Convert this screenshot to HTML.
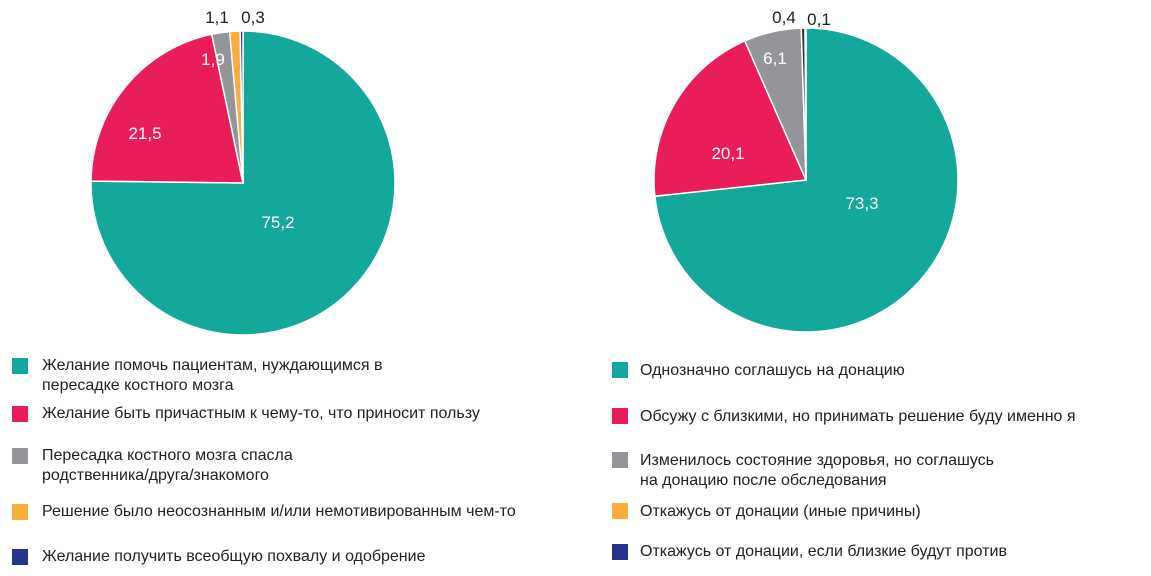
<!DOCTYPE html>
<html><head><meta charset="utf-8"><style>
body{margin:0;width:1151px;height:576px;background:#fff;font-family:"Liberation Sans",sans-serif;overflow:hidden;position:relative}
.lg{position:absolute;font-size:16px;line-height:20px;color:#222}
.sw{position:absolute;width:16px;height:16px}
</style></head><body>
<svg id="chart" width="1151" height="345" style="position:absolute;left:0;top:0"></svg>
<div id="legends"></div>
<script>
const leftLabels=["75,2","21,5","1,9","1,1","0,3"];
const leftValues=[75.2,21.5,1.9,1.1,0.3];
const rightLabels=["73,3","20,1","6,1","0,4","0,1"];
const rightValues=[73.3,20.1,6.1,0.4,0.1];
const leftColors=["#13a89a","#ea1d5b","#949599","#fbad3c","#26348b"];
const rightColors=["#13a89a","#ea1d5b","#949599","#333333","#26348b"];
const leftLegend=["Желание помочь пациентам, нуждающимся в<br>пересадке костного мозга","Желание быть причастным к чему-то, что приносит пользу","Пересадка костного мозга спасла<br>родственника/друга/знакомого","Решение было неосознанным и/или немотивированным чем-то","Желание получить всеобщую похвалу и одобрение"];
const rightLegend=["Однозначно соглашусь на донацию","Обсужу с близкими, но принимать решение буду именно я","Изменилось состояние здоровья, но соглашусь<br>на донацию после обследования","Откажусь от донации (иные причины)","Откажусь от донации, если близкие будут против"];
const NS="http://www.w3.org/2000/svg";
const svg=document.getElementById('chart');
function pie(cx,cy,r,vals,labels,colors,labelPos,prefix){
  const tot=vals.reduce((a,b)=>a+b,0);let a0=0;
  vals.forEach((v,i)=>{
    const a1=a0+v/tot*2*Math.PI;
    const p=(a)=>[cx+r*Math.sin(a),cy-r*Math.cos(a)];
    const [x0,y0]=p(a0),[x1,y1]=p(a1);
    const path=document.createElementNS(NS,'path');
    path.setAttribute('d',`M${cx},${cy}L${x0},${y0}A${r},${r} 0 ${a1-a0>Math.PI?1:0} 1 ${x1},${y1}Z`);
    path.setAttribute('fill',colors[i]);path.setAttribute('stroke','#fff');path.setAttribute('stroke-width','1.5');
    
    
    svg.appendChild(path);
    const am=(a0+a1)/2;const lp=labelPos[i];
    let lx,ly,fill;
    if(lp==null){lx=cx+r*0.62*Math.sin(am);ly=cy-r*0.62*Math.cos(am);fill='#fff';}
    else{lx=lp[0];ly=lp[1];fill=lp[2];}
    const t=document.createElementNS(NS,'text');
    t.setAttribute('x',lx);t.setAttribute('y',ly+6);t.setAttribute('text-anchor','middle');
    t.setAttribute('font-size','17');t.setAttribute('fill',fill);t.textContent=labels[i];
    
    
    svg.appendChild(t);
    a0=a1;
  });
}
pie(243,183,152,leftValues,leftLabels,leftColors,[[278,222,'#fff'],[145,133,'#fff'],[213,59,'#fff'],[217,17,'#222'],[253,17,'#222']],'left-pie');
pie(806,180,152,rightValues,rightLabels,rightColors,[[862,203,'#fff'],[728,153,'#fff'],[775,58,'#fff'],[784,17,'#222'],[819,19,'#222']],'right-pie');
const lg=document.getElementById('legends');
function legend(items,colors,sx,tx,ys,prefix){
  items.forEach((s,i)=>{
    const sw=document.createElement('div');sw.className='sw';
    sw.style.left=sx+'px';sw.style.top=(ys[i][0])+'px';sw.style.background=colors[i];
    
    
    lg.appendChild(sw);
    const d=document.createElement('div');d.className='lg';
    d.style.left=tx+'px';d.style.top=ys[i][1]+'px';d.innerHTML=s;
    
    
    lg.appendChild(d);
  });
}
legend(leftLegend,leftColors,12,42,[[358,356],[406,404],[448,446],[504,502],[549,547]],'left-legend');
legend(rightLegend,leftColors,612,640,[[362,361],[408,407],[452,451],[503,502],[544,542]],'right-legend');
</script>
</body></html>
